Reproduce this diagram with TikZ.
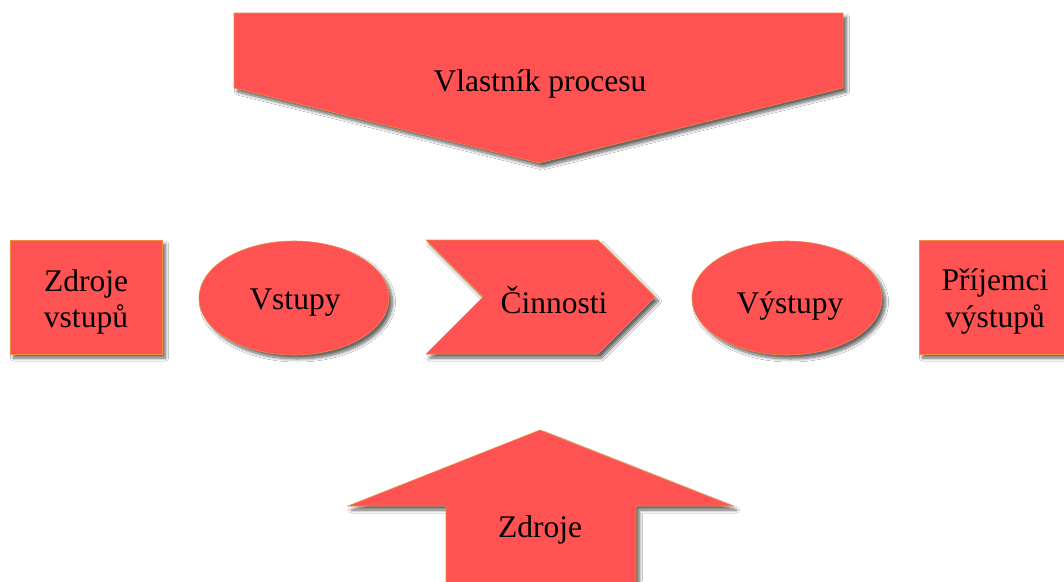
\documentclass[tikz,border=0pt]{standalone}
\usepackage{fontspec}
\setmainfont{Liberation Serif}
\usetikzlibrary{shapes.geometric,shadows.blur}
\definecolor{boxred}{RGB}{255,82,82}
\definecolor{edgeorange}{RGB}{238,140,64}
\tikzset{
  redfill/.style={fill=boxred, draw=edgeorange, line width=0.6pt,
    blur shadow={shadow xshift=3.5pt, shadow yshift=-4pt,
      shadow blur radius=3pt, shadow blur steps=8, shadow opacity=60}},
  oval/.style={redfill, ellipse, inner sep=0pt, minimum width=190pt, minimum height=114pt},
  lbl/.style={font=\fontsize{31.5}{36}\selectfont, text=black, inner sep=0pt, anchor=base}
}
\begin{document}
\begin{tikzpicture}[x=1pt, y=-1pt]
  \useasboundingbox (0,0) rectangle (1064,581);
  \fill[white] (0,0) rectangle (1064,581);

  % process owner: downward pentagon arrow
  \path[redfill] (234,13) -- (843,13) -- (843,88) -- (539,163) -- (234,88) -- cycle;
  \node[lbl] (owner) at (540,91) {Vlastník procesu};

  % sources of inputs
  \path[redfill] (10,240) rectangle (162,354);
  \node[lbl] (srcA) at (86,291) {Zdroje};
  \node[lbl] (srcB) at (86,327) {vstupů};

  % inputs
  \node[oval] (inputs) at (294,298) {};
  \node[lbl] (inputsTxt) at (295,309) {Vstupy};

  % activities: chevron
  \path[redfill] (426,240) -- (598,240) -- (655,297) -- (598,354) -- (426,354) -- (483,297) -- cycle;
  \node[lbl] (actTxt) at (554,313) {Činnosti};

  % outputs
  \node[oval] (outputs) at (787,298) {};
  \node[lbl] (outputsTxt) at (790,313) {Výstupy};

  % recipients of outputs
  \path[redfill] (919,240) rectangle (1071,354);
  \node[lbl] (rcpA) at (995,290) {Příjemci};
  \node[lbl] (rcpB) at (995,327) {výstupů};

  % resources: upward arrow
  \path[redfill] (540,430) -- (733,506) -- (636,506) -- (636,600) -- (446,600) -- (446,506) -- (348,506) -- cycle;
  \node[lbl] (resTxt) at (540,537) {Zdroje};
\end{tikzpicture}
\end{document}
